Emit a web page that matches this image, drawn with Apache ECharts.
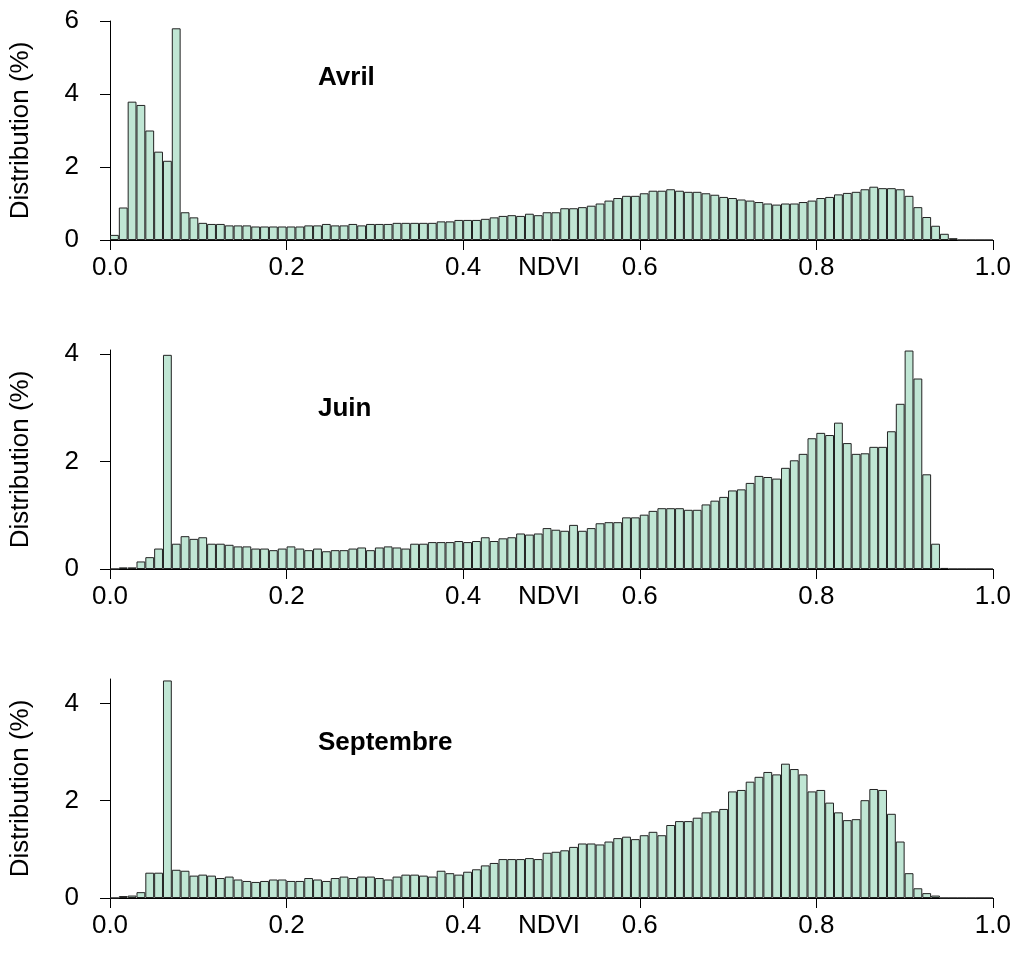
<!DOCTYPE html>
<html>
<head>
<meta charset="utf-8">
<script src="https://cdn.jsdelivr.net/npm/echarts@6/dist/echarts.min.js"></script>
<style>
html,body{margin:0;padding:0;background:#ffffff;}
#c{width:1014px;height:958px;}
</style>
</head>
<body>
<div id="c"></div>
<script>
// ---- data ----
const panelNames = ['Avril', 'Juin', 'Septembre'];
const xAxisTitle = 'NDVI';
const yAxisTitle = 'Distribution (%)';
const xTickValues = [0, 0.2, 0.4, 0.6, 0.8, 1.0];
const yTicksAvril = [0, 2, 4, 6];
const yTicksJuin = [0, 2, 4];
const yTicksSeptembre = [0, 2, 4];
const yMaxAvril = 6;
const yMaxJuin = 4.07;
const yMaxSeptembre = 4.5;

// 100 bins of width 0.01 (bin start values)
const binStarts = [];
for (let i = 0; i < 100; i++) binStarts.push((i / 100).toFixed(2));

const avril = [
  0.14, 0.89, 3.79, 3.70, 3.00, 2.42, 2.17, 5.80, 0.76, 0.62,
  0.47, 0.44, 0.44, 0.40, 0.40, 0.40, 0.37, 0.37, 0.37, 0.37,
  0.37, 0.37, 0.40, 0.40, 0.44, 0.40, 0.40, 0.44, 0.40, 0.44,
  0.44, 0.44, 0.47, 0.47, 0.47, 0.47, 0.47, 0.51, 0.51, 0.55,
  0.55, 0.55, 0.58, 0.62, 0.66, 0.68, 0.66, 0.72, 0.68, 0.76,
  0.76, 0.87, 0.87, 0.90, 0.94, 1.00, 1.08, 1.15, 1.21, 1.21,
  1.28, 1.35, 1.35, 1.39, 1.35, 1.32, 1.32, 1.28, 1.24, 1.18,
  1.15, 1.11, 1.08, 1.04, 1.00, 0.97, 1.00, 1.00, 1.04, 1.08,
  1.15, 1.18, 1.25, 1.29, 1.32, 1.39, 1.46, 1.42, 1.42, 1.39,
  1.21, 0.90, 0.63, 0.39, 0.17, 0.05, 0, 0, 0, 0
];

const juin = [
  0, 0.03, 0.03, 0.14, 0.22, 0.38, 3.98, 0.47, 0.61, 0.56,
  0.59, 0.47, 0.47, 0.45, 0.42, 0.42, 0.38, 0.38, 0.35, 0.38,
  0.42, 0.38, 0.35, 0.38, 0.33, 0.35, 0.35, 0.38, 0.40, 0.35,
  0.40, 0.42, 0.40, 0.38, 0.47, 0.47, 0.50, 0.50, 0.50, 0.52,
  0.50, 0.52, 0.59, 0.52, 0.57, 0.59, 0.66, 0.64, 0.66, 0.76,
  0.73, 0.71, 0.82, 0.71, 0.76, 0.85, 0.87, 0.87, 0.96, 0.96,
  1.01, 1.08, 1.13, 1.13, 1.13, 1.10, 1.10, 1.20, 1.27, 1.34,
  1.46, 1.48, 1.60, 1.73, 1.71, 1.68, 1.88, 2.02, 2.14, 2.43,
  2.53, 2.49, 2.72, 2.34, 2.14, 2.15, 2.27, 2.27, 2.56, 3.07,
  4.06, 3.54, 1.76, 0.47, 0.02, 0, 0, 0, 0, 0
];

const septembre = [
  0, 0.04, 0.05, 0.12, 0.52, 0.52, 4.47, 0.58, 0.56, 0.46,
  0.48, 0.46, 0.41, 0.44, 0.38, 0.35, 0.33, 0.35, 0.38, 0.38,
  0.35, 0.35, 0.41, 0.38, 0.35, 0.41, 0.44, 0.41, 0.44, 0.44,
  0.41, 0.38, 0.44, 0.48, 0.48, 0.46, 0.44, 0.56, 0.51, 0.48,
  0.54, 0.59, 0.67, 0.72, 0.80, 0.80, 0.80, 0.82, 0.80, 0.93,
  0.95, 0.98, 1.05, 1.12, 1.12, 1.10, 1.16, 1.23, 1.26, 1.21,
  1.29, 1.36, 1.29, 1.50, 1.58, 1.58, 1.65, 1.76, 1.78, 1.83,
  2.19, 2.22, 2.39, 2.49, 2.59, 2.54, 2.76, 2.65, 2.54, 2.19,
  2.22, 1.96, 1.76, 1.60, 1.62, 2.01, 2.24, 2.22, 1.73, 1.16,
  0.51, 0.20, 0.10, 0.05, 0, 0, 0, 0, 0, 0
];

// ---- chart ----
const FONT = '"Liberation Sans", Arial, sans-serif';
const panels = [
  { name: panelNames[0], values: avril, yMax: yMaxAvril, yTicks: yTicksAvril },
  { name: panelNames[1], values: juin, yMax: yMaxJuin, yTicks: yTicksJuin },
  { name: panelNames[2], values: septembre, yMax: yMaxSeptembre, yTicks: yTicksSeptembre }
];
const gridTops = [21, 350, 679];
const gridHeight = 219;
const titleCenters = [78, 409, 743];

const grids = [], xAxes = [], yAxes = [], series = [], graphics = [];
panels.forEach((p, i) => {
  grids.push({ left: 108, right: 20, top: gridTops[i], height: gridHeight, containLabel: false });
  xAxes.push({
    type: 'category', gridIndex: i, data: binStarts, show: false,
    position: 'bottom', boundaryGap: true
  });
  xAxes.push({
    type: 'value', gridIndex: i, min: 0, max: 1, interval: 0.2, position: 'bottom',
    axisLine: { show: true, onZero: false, lineStyle: { color: '#000', width: 1 } },
    axisTick: { show: true, length: 10, customValues: xTickValues, lineStyle: { color: '#000', width: 1 } },
    axisLabel: {
      show: true, margin: 15, fontSize: 26, color: '#000', fontFamily: FONT,
      customValues: xTickValues, formatter: v => Number(v).toFixed(1)
    },
    splitLine: { show: false }
  });
  yAxes.push({
    type: 'value', gridIndex: i, min: 0, max: p.yMax, interval: 2,
    axisLine: { show: true, lineStyle: { color: '#000', width: 1 } },
    axisTick: { show: true, length: 10, customValues: p.yTicks, lineStyle: { color: '#000', width: 1 } },
    axisLabel: {
      show: true, margin: 31, fontSize: 26, color: '#000', fontFamily: FONT,
      customValues: p.yTicks
    },
    splitLine: { show: false },
    name: yAxisTitle, nameLocation: 'middle', nameRotate: 90, nameGap: 76,
    nameTextStyle: { fontSize: 26, color: '#000', fontFamily: FONT }
  });
  series.push({
    type: 'bar', xAxisIndex: 2 * i, yAxisIndex: i, data: p.values,
    barCategoryGap: '0%', barGap: '0%', silent: true,
    itemStyle: { color: '#C0E6D4', borderColor: '#222', borderWidth: 1 }
  });
  graphics.push({
    type: 'text', x: 318, y: titleCenters[i],
    style: {
      text: p.name, font: 'bold 26px ' + FONT, fill: '#000',
      align: 'left', verticalAlign: 'middle'
    }
  });
  graphics.push({
    type: 'text', x: 549, y: gridTops[i] + gridHeight + 28,
    style: {
      text: xAxisTitle, font: '26px ' + FONT, fill: '#000',
      align: 'center', verticalAlign: 'middle'
    }
  });
});

const chart = echarts.init(document.getElementById('c'), null, { renderer: 'canvas' });
chart.setOption({
  animation: false,
  backgroundColor: '#ffffff',
  grid: grids,
  xAxis: xAxes,
  yAxis: yAxes,
  series: series,
  graphic: graphics
});
</script>
</body>
</html>
